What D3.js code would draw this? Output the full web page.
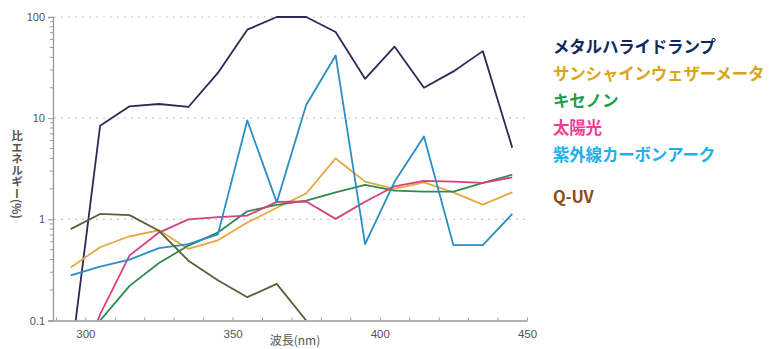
<!DOCTYPE html>
<html><head><meta charset="utf-8">
<script src="https://cdn.jsdelivr.net/npm/d3@7"></script>
<style>
body{margin:0;background:#fff;}
svg{display:block;}
</style></head>
<body>
<svg id="c" width="778" height="349"></svg>
<script>
const wavelengths = [295,305,315,325,335,345,355,365,375,385,395,405,415,425,435,445];
const metalHalide = [0.04,8.4,13.1,13.8,12.9,28,75,100,100,71,24.5,51,20,29,46,5.1];
const sunshine    = [0.335,0.53,0.68,0.78,0.51,0.62,0.93,1.3,1.8,4.0,2.36,2.0,2.32,1.85,1.4,1.85];
const xenon       = [null,0.1,0.22,0.37,0.55,0.74,1.2,1.39,1.53,1.85,2.19,1.92,1.88,1.88,2.29,2.76];
const sunlight    = [0.02,0.115,0.44,0.74,1.0,1.05,1.09,1.49,1.5,1.01,1.49,2.12,2.4,2.36,2.29,2.6];
const carbonArc   = [0.28,0.34,0.40,0.52,0.57,0.71,9.5,1.47,13.5,41.7,0.57,2.35,6.6,0.556,0.556,1.13];
const quv         = [0.8,1.13,1.1,0.77,0.39,0.25,0.17,0.23,0.1,null,null,null,null,null,null,null];

const seriesNames = ["メタルハライドランプ","サンシャインウェザーメータ","キセノン","太陽光","紫外線カーボンアーク","Q-UV"];
const xTicks = [300,350,400,450];
const yTicks = [0.1,1,10,100];
const yTickLabels = ["0.1","1","10","100"];
const xTitle = "波長(nm)";
const yTitle = "比エネルギー(%)";

const series = [
  {name: seriesNames[0], values: metalHalide, line: "#2c2a55", legend: "#10285e"},
  {name: seriesNames[1], values: sunshine,    line: "#e6a840", legend: "#dca515"},
  {name: seriesNames[2], values: xenon,       line: "#2e8b50", legend: "#16a04c"},
  {name: seriesNames[3], values: sunlight,    line: "#d8407c", legend: "#ee3d96"},
  {name: seriesNames[4], values: carbonArc,   line: "#2a8dc5", legend: "#1fb0e6"},
  {name: seriesNames[5], values: quv,         line: "#5e5d3a", legend: "#8a4a14"}
];

const svg = d3.select("#c");
const x = d3.scaleLinear().domain([289,450]).range([53,527]);
const y = d3.scaleLog().domain([0.1,100]).range([320.5,17]);

// grid
svg.append("g").selectAll("line").data([1,10,100]).join("line")
  .attr("x1",54).attr("x2",527).attr("y1",d=>y(d)).attr("y2",d=>y(d))
  .attr("stroke","#c8c8c8").attr("stroke-width",1.2).attr("stroke-dasharray","2,5");

// clip
svg.append("clipPath").attr("id","plot").append("rect")
  .attr("x",53).attr("y",10).attr("width",480).attr("height",310.5);

const line = d3.line()
  .defined(d=>d[1]!==null)
  .x(d=>x(d[0])).y(d=>y(d[1]));

const g = svg.append("g").attr("clip-path","url(#plot)");
series.forEach(s=>{
  g.append("path")
    .datum(wavelengths.map((w,i)=>[w,s.values[i]]))
    .attr("d",line).attr("fill","none")
    .attr("stroke",s.line).attr("stroke-width",1.8).attr("stroke-linejoin","round");
});

// left axis
const yAxis = d3.axisLeft(y).tickValues(yTicks).tickFormat((d,i)=>yTickLabels[i]).tickSize(5).tickPadding(3);
const ya = svg.append("g").attr("transform","translate(53,0)").call(yAxis);
const minorY = [];
[0.1,1,10].forEach(b=>{for(let k=2;k<10;k++) minorY.push(b*k);});
ya.selectAll(".minor").data(minorY).join("line").attr("class","minor")
  .attr("x1",-3).attr("x2",0).attr("y1",d=>y(d)).attr("y2",d=>y(d)).attr("stroke","#999");
ya.select(".domain").attr("stroke","#999").attr("stroke-width",1.3);
ya.selectAll(".tick line").attr("stroke","#999");
ya.selectAll("text").attr("font-family","Liberation Sans, Arial, sans-serif").attr("font-size",11).attr("fill","#555");

// bottom axis
const xAxis = d3.axisBottom(x).tickValues(d3.range(290,451,10)).tickFormat(d=>xTicks.includes(d)?String(d):"").tickSizeInner(-3).tickSizeOuter(0).tickPadding(9);
const xa = svg.append("g").attr("transform","translate(0,320.5)").call(xAxis);
xa.select(".domain").attr("stroke","#999").attr("stroke-width",1.3);
xa.selectAll(".tick line").attr("stroke","#999");
xa.selectAll("text").attr("font-family","Liberation Sans, Arial, sans-serif").attr("font-size",11.5).attr("fill","#555");

// axis titles
svg.append("text").attr("x",295).attr("y",345).attr("text-anchor","middle")
  .attr("font-family","Noto Sans CJK JP, sans-serif").attr("font-size",12).attr("fill","#555").text(xTitle);
svg.append("text").attr("x",17).attr("y",130)
  .attr("font-family","Noto Sans CJK JP, sans-serif").attr("font-size",11.5).attr("font-weight","bold").attr("fill","#555")
  .style("writing-mode","vertical-rl").text(yTitle);

// legend
const legY = [47,74,101,128,155,197];
svg.append("g").selectAll("text").data(series).join("text")
  .attr("x",553).attr("y",(d,i)=>legY[i]).attr("dy","0.35em")
  .attr("font-family","Noto Sans CJK JP, sans-serif").attr("font-weight","bold").attr("font-size",16.5)
  .attr("letter-spacing",-0.2)
  .attr("fill",d=>d.legend).text(d=>d.name);
</script>
</body></html>
